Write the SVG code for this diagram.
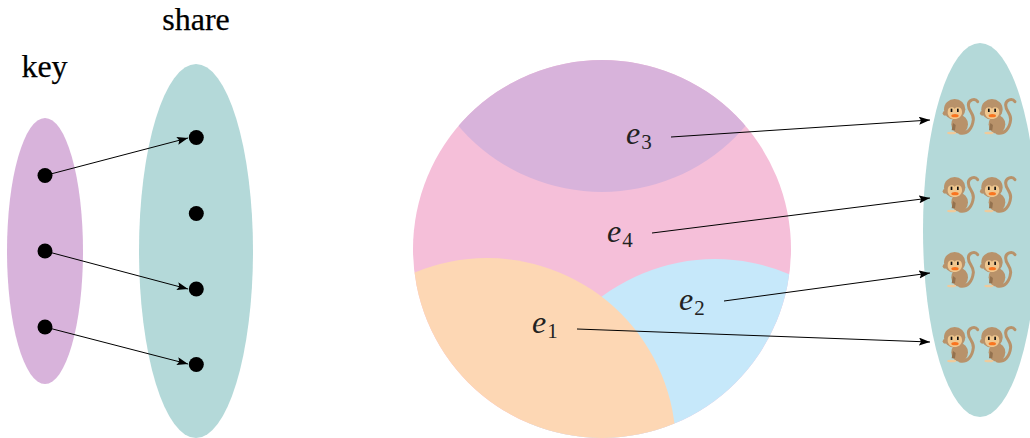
<svg xmlns="http://www.w3.org/2000/svg" width="1030" height="438" viewBox="0 0 1030 438">
<style>
.lbl{font-family:"Liberation Serif","Times New Roman",serif;font-size:32px;fill:#000;stroke:#000;stroke-width:.25}
.e{font-family:"Liberation Serif","Times New Roman",serif;font-size:32px;font-style:italic;fill:#222}
.sub{font-family:"Liberation Serif","Times New Roman",serif;font-size:21px;font-style:normal;fill:#222}
.dot{fill:#000}
.purple{fill:#d8b3db}
.teal{fill:#b4d9d9}
.c{fill:none;stroke:#000;stroke-width:1;marker-end:url(#ah)}
</style>
<defs>
<marker id="ah" markerUnits="userSpaceOnUse" markerWidth="12" markerHeight="9" refX="11" refY="4" orient="auto"><path d="M0 0L11 4L0 8L2 4Z" fill="#000"/></marker>
<clipPath id="disc"><circle cx="602" cy="249" r="189"/></clipPath>
<g id="monkey" transform="scale(.3333)">
<path d="M51 108C72 112 88 96 91 68C93 50 76 42 76 24C76 8 96 2 104 14" fill="none" stroke="#b8926a" stroke-width="9" stroke-linecap="round"/>
<ellipse cx="50" cy="82" rx="25" ry="28" fill="#b8926a"/>
<ellipse cx="26" cy="108" rx="14" ry="4" fill="#efcb9c"/>
<path d="M30 78L38 84L36 100L26 100Z" fill="#94724f"/>
<circle cx="6" cy="49" r="7" fill="#b8926a"/>
<ellipse cx="35" cy="37" rx="32" ry="31" fill="#b8926a"/>
<path d="M14 44C14 30 28 28 35 35C42 28 57 30 57 44C58 58 46 66 35 66C24 66 13 58 14 44Z" fill="#f0c78f"/>
<rect x="23" y="35" width="5" height="10" fill="#111"/>
<rect x="42" y="35" width="5" height="10" fill="#111"/>
<ellipse cx="36" cy="56" rx="11" ry="5" fill="#f9741f"/>
</g>
</defs>
<g id="key-set"><ellipse class="purple" cx="45" cy="251" rx="38" ry="133"/><text class="lbl" x="44.5" y="77" text-anchor="middle">key</text></g>
<g id="share-set"><ellipse class="teal" cx="196" cy="251" rx="57" ry="187"/><text class="lbl" x="196" y="30" text-anchor="middle">share</text></g>
<g id="k1"><circle class="dot" cx="45" cy="175.5" r="7.5"/></g>
<g id="k2"><circle class="dot" cx="45" cy="251" r="7.5"/></g>
<g id="k3"><circle class="dot" cx="45" cy="327" r="7.5"/></g>
<g id="s1"><circle class="dot" cx="196.3" cy="137.5" r="7.5"/></g>
<g id="s2"><circle class="dot" cx="196.3" cy="213.5" r="7.5"/></g>
<g id="s3"><circle class="dot" cx="196.3" cy="289" r="7.5"/></g>
<g id="s4"><circle class="dot" cx="196.3" cy="364.5" r="7.5"/></g>
<g id="partition">
<circle cx="602" cy="249" r="189" fill="#f5bfd9"/>
<g clip-path="url(#disc)">
<circle cx="602" cy="3" r="189" fill="#d8b3db"/>
<circle cx="715" cy="448" r="189" fill="#c6e8fa"/>
<circle cx="487" cy="447" r="189" fill="#fdd7b4"/>
</g>
</g>
<g id="labels">
<text class="e" x="626" y="144">e<tspan class="sub" dx="1" dy="5">3</tspan></text>
<text class="e" x="607" y="242">e<tspan class="sub" dx="1" dy="5">4</tspan></text>
<text class="e" x="679" y="310">e<tspan class="sub" dx="1" dy="5">2</tspan></text>
<text class="e" x="532" y="333">e<tspan class="sub" dx="1" dy="5">1</tspan></text>
</g>
<g id="shares-set">
<ellipse class="teal" cx="980" cy="230" rx="57" ry="187"/>
<use href="#monkey" x="943" y="97"/><use href="#monkey" x="980.3" y="97"/>
<use href="#monkey" x="943" y="175"/><use href="#monkey" x="980.3" y="175"/>
<use href="#monkey" x="943" y="250"/><use href="#monkey" x="980.3" y="250"/>
<use href="#monkey" x="943" y="325"/><use href="#monkey" x="980.3" y="325"/>
</g>
<g id="connectors">
<path class="c" d="M45 175.5L188 138"/>
<path class="c" d="M45 251L188 289"/>
<path class="c" d="M45 327L188 364"/>
<path class="c" d="M671 137L930 120"/>
<path class="c" d="M652 233L930 198"/>
<path class="c" d="M724 301L930 273"/>
<path class="c" d="M577 329L930 342"/>
</g>
</svg>
